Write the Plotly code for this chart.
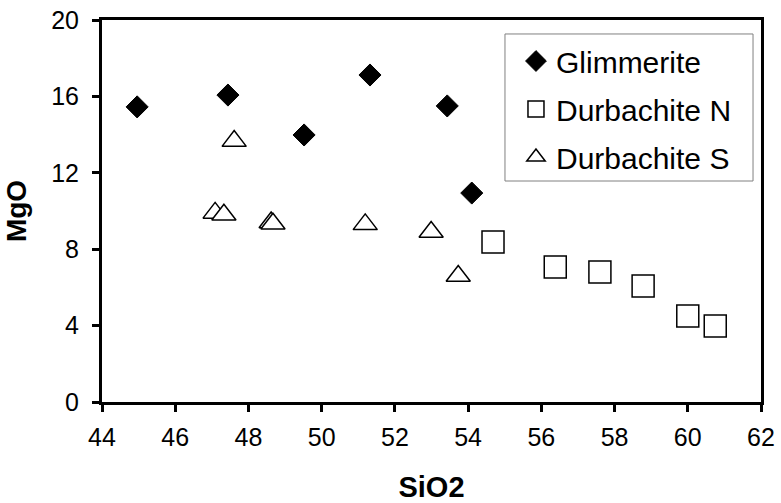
import plotly.graph_objects as go

glim_x = [44.96, 47.44, 49.52, 51.32, 53.43, 54.10]
glim_y = [15.45, 16.07, 13.98, 17.12, 15.50, 10.94]

durbN_x = [54.68, 56.38, 57.60, 58.78, 60.00, 60.75]
durbN_y = [8.38, 7.07, 6.80, 6.07, 4.50, 3.98]

durbS_x = [47.61, 47.09, 47.33, 48.62, 48.67, 51.19, 52.99, 53.73]
durbS_y = [13.66, 9.90, 9.80, 9.40, 9.33, 9.30, 8.90, 6.60]

x_ticks = [44, 46, 48, 50, 52, 54, 56, 58, 60, 62]
y_ticks = [0, 4, 8, 12, 16, 20]

FONT = "Liberation Sans, Arial, sans-serif"

fig = go.Figure()
fig.add_trace(go.Scatter(
    x=glim_x, y=glim_y, mode="markers", name="Glimmerite", legendgroup="a",
    marker=dict(symbol="diamond", size=17, color="black", line=dict(color="black", width=1)),
))
fig.add_trace(go.Scatter(
    x=durbN_x, y=durbN_y, mode="markers", name="Durbachite N", legendgroup="b",
    marker=dict(symbol="square", size=22, color="white", line=dict(color="black", width=1.5)),
))
fig.add_trace(go.Scatter(
    x=durbS_x, y=durbS_y, mode="markers", name="Durbachite S", legendgroup="c",
    marker=dict(symbol="triangle-up", size=21, color="white", line=dict(color="black", width=1.5)),
))

axis_common = dict(
    showgrid=False, zeroline=False, showline=True, linecolor="black", linewidth=3,
    mirror=True, ticks="outside", ticklen=7, tickwidth=3, tickcolor="black",
    tickfont=dict(family=FONT, size=25, color="black"), automargin=False,
    ticklabeloverflow="allow",
)

fig.update_layout(
    width=781, height=503,
    margin=dict(l=102, r=20, t=20, b=101),
    paper_bgcolor="white", plot_bgcolor="white",
    font=dict(family=FONT, color="black"),
    xaxis=dict(range=[44, 62], tickvals=x_ticks, ticktext=[str(v) for v in x_ticks],
               title=dict(text="<b>SiO2</b>", font=dict(family=FONT, size=29), standoff=30),
               ticklabelstandoff=4,
               **axis_common),
    yaxis=dict(range=[0, 20], tickvals=y_ticks, ticktext=[str(v) for v in y_ticks],
               title=dict(text="<b>MgO</b>", font=dict(family=FONT, size=28), standoff=17),
               ticklabelstandoff=8,
               **axis_common),
    legend=dict(
        x=0.6115, y=0.9607, xanchor="left", yanchor="top",
        borderwidth=0, bgcolor="rgba(0,0,0,0)",
        font=dict(family=FONT, size=30, color="black"),
        tracegroupgap=6, indentation=11,
    ),
    showlegend=True,
    shapes=[dict(type="rect", xref="paper", yref="paper",
                 x0=0.6115, x1=0.9879, y0=0.5785, y1=0.9634,
                 line=dict(color="#808080", width=1), fillcolor="rgba(0,0,0,0)",
                 layer="above")],
)

# remove the browser's default 8px body margin so the figure fills the window exactly
fig.write_html("out.html", config={"displayModeBar": False},
               post_script="document.body.style.margin='0px';")
